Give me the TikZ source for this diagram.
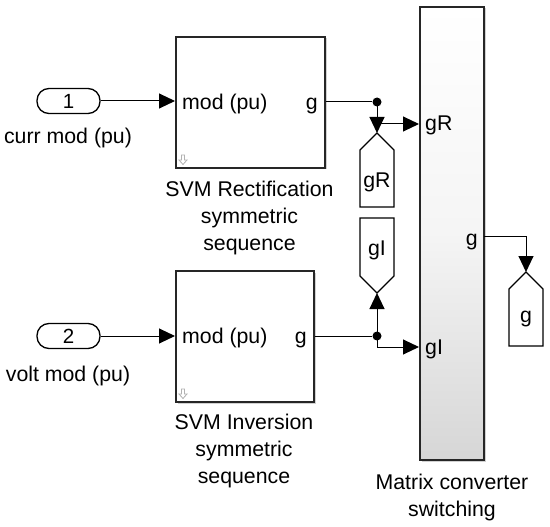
\documentclass[tikz,border=0pt]{standalone}
\usepackage{fontspec}
\setmainfont{Liberation Sans}
\usetikzlibrary{arrows.meta}
\begin{document}
\begin{tikzpicture}[x=1pt,y=-1pt,
  lbl/.style={font=\fontsize{21.3}{26.8}\selectfont, inner sep=0pt, align=center},
  wire/.style={line width=1pt, draw=black},
  arr/.style={wire, -{Triangle[length=16pt,width=15pt]}},
  blk/.style={draw=black!85, line width=1.6pt, fill=white, inner sep=0pt},
  shadowbox/.style={fill=black!18},
  inport/.style={draw=black, line width=1.3pt, rounded corners=12pt, minimum width=63pt, minimum height=25pt, inner sep=0pt, font=\fontsize{20.5}{22}\selectfont},
  gotoline/.style={draw=black, line width=1.3pt, fill=white, line join=miter},
  jdot/.style={circle, fill=black, inner sep=0pt, minimum size=9pt},
  icon/.style={draw=black!30, line width=0.8pt},
]
\useasboundingbox (0,0) rectangle (550,527);

% shadows
\fill[shadowbox] (177.5,38.5) rectangle (326.5,169.5);
\fill[shadowbox] (177.5,272.5) rectangle (315.5,403.5);
\fill[shadowbox] (421.5,8.5) rectangle (485.5,461.5);

% blocks
\node[blk, minimum width=149pt, minimum height=131pt, anchor=north west] (svmR) at (175,36) {};
\node[blk, minimum width=138pt, minimum height=131pt, anchor=north west] (svmI) at (175,270) {};
\node[blk, top color=white, bottom color=black!16, middle color=black!4, minimum width=64pt, minimum height=453pt, anchor=north west] (mx) at (419,6) {};

% block port labels
\node[lbl, anchor=base west] (svmRin) at (182,110) {mod (pu)};
\node[lbl, anchor=base east] (svmRout) at (318,110) {g};
\node[lbl, anchor=base west] (svmIin) at (182,343) {mod (pu)};
\node[lbl, anchor=base east] (svmIout) at (307,343) {g};
\node[lbl, anchor=base west] (mxRin) at (425,131) {gR};
\node[lbl, anchor=base west] (mxIin) at (425,354) {gI};
\node[lbl, anchor=base east] (mxout) at (478,245) {g};

% icons
\draw[icon] (181.5,155) -- (184.5,155) -- (184.5,160) -- (187,160) -- (183,164.5) -- (179,160) -- (181.5,160) -- cycle;
\draw[icon] (181.5,389) -- (184.5,389) -- (184.5,394) -- (187,394) -- (183,398.5) -- (179,394) -- (181.5,394) -- cycle;

% block labels
\node[lbl, anchor=north] (svmRlbl) at (249.5,181) {SVM Rectification\\symmetric\\sequence};
\node[lbl, anchor=north] (svmIlbl) at (244,414) {SVM Inversion\\symmetric\\sequence};
\node[lbl, anchor=north] (mxlbl) at (452,474) {Matrix converter\\switching};

% inports
\node[inport] (in1) at (68.5,101) {1};
\node[inport] (in2) at (68.5,336) {2};
\node[lbl, anchor=base] (in1lbl) at (68,144) {curr mod (pu)};
\node[lbl, anchor=base] (in2lbl) at (68,381) {volt mod (pu)};

% gotos
\coordinate (gRtip) at (377,133);
\draw[gotoline] (gRtip) -- (394,150) -- (394,207) -- (360,207) -- (360,150) -- cycle;
\node[lbl, anchor=base] (gRtxt) at (377,188) {gR};
\coordinate (gItip) at (377,293);
\draw[gotoline] (gItip) -- (394,276) -- (394,218) -- (360,218) -- (360,276) -- cycle;
\node[lbl, anchor=base] (gItxt) at (377,255) {gI};
\coordinate (gtip) at (526,272);
\draw[gotoline] (gtip) -- (543,289) -- (543,346) -- (509,346) -- (509,289) -- cycle;
\node[lbl, anchor=base] (gtxt) at (526,323) {g};

% junctions
\node[jdot] (d1) at (377,102) {};
\node[jdot] (d2) at (377,336) {};

% matrix ports
\coordinate (mxR) at (419,124);
\coordinate (mxI) at (419,347);
\coordinate (mxO) at (483.8,237);

% connectors
\draw[arr] (in1) -- (in1 -| svmR.west);
\draw[arr] (in2) -- (in2 -| svmI.west);
\draw[wire] (svmR.east |- d1) -- (d1);
\draw[wire] (svmI.east |- d2) -- (d2);
\draw[arr] (d1.center) -- (gRtip);
\draw[arr] (d1.center) |- (mxR);
\draw[arr] (d2.center) -- (gItip);
\draw[arr] (d2.center) |- (mxI);
\draw[arr] (mxO) -| (gtip);
\end{tikzpicture}
\end{document}
